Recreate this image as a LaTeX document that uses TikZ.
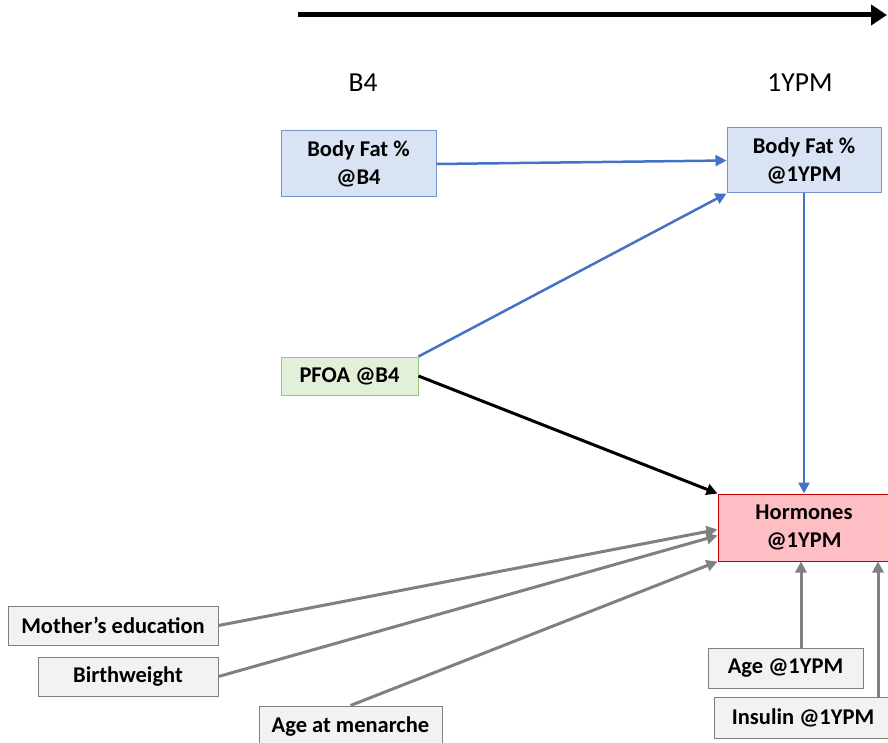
\documentclass[tikz,border=0pt]{standalone}
\usepackage{fontspec}
\setmainfont{Carlito}
\usetikzlibrary{arrows.meta}

\definecolor{fatfill}{RGB}{218,227,243}
\definecolor{fatline}{RGB}{114,147,203}
\definecolor{pfoafill}{RGB}{226,240,217}
\definecolor{pfoaline}{RGB}{150,200,120}
\definecolor{hormfill}{RGB}{255,190,196}
\definecolor{hormline}{RGB}{192,0,0}
\definecolor{covfill}{RGB}{242,242,242}
\definecolor{covline}{RGB}{127,127,127}
\definecolor{pathblue}{RGB}{68,114,196}
\definecolor{pathgray}{RGB}{128,128,128}

\tikzset{
  box/.style={draw, line width=1pt, align=center, inner sep=0pt,
    font=\bfseries\fontsize{22.5}{28}\selectfont},
  fatbox/.style={box, fill=fatfill, draw=fatline},
  pfoabox/.style={box, fill=pfoafill, draw=pfoaline},
  hormbox/.style={box, fill=hormfill, draw=hormline},
  covbox/.style={box, fill=covfill, draw=covline},
  bluearrow/.style={draw=pathblue, line width=2.5pt, -{Triangle[length=11pt,width=11pt]}},
  blackarrow/.style={draw=black, line width=3pt, -{Triangle[length=11pt,width=11pt]}},
  grayarrow/.style={draw=pathgray, line width=3pt, -{Triangle[length=11pt,width=11pt]}},
  timelabel/.style={font=\fontsize{27.5}{31}\selectfont}
}

\begin{document}
\begin{tikzpicture}[x=1pt, y=-1pt]
  \useasboundingbox (0,0) rectangle (888,743);

  % time line
  \coordinate (tstart) at (298,15);
  \coordinate (tend) at (887,15);
  \draw[line width=5pt, -{Triangle[length=16pt,width=20pt]}] (tstart) -- (tend);
  \node[timelabel] (lb4) at (363,83) {B4};
  \node[timelabel] (l1ypm) at (800,83) {1YPM};

  % nodes
  \node[fatbox, minimum width=155, minimum height=66] (fatb4) at (358.5,164) {Body Fat \%\\@B4};
  \node[fatbox, minimum width=154, minimum height=65] (fat1ypm) at (804,160.5) {Body Fat \%\\@1YPM};
  \node[pfoabox, minimum width=137, minimum height=38] (pfoa) at (349.5,376) {PFOA @B4};
  \node[hormbox, minimum width=172, minimum height=67] (horm) at (804,527.5) {Hormones\\@1YPM};
  \node[covbox, minimum width=210, minimum height=39] (moth) at (113,625.5) {Mother’s education};
  \node[covbox, minimum width=180, minimum height=39] (birth) at (128,676.5) {Birthweight};
  \node[covbox, minimum width=183, minimum height=42] (menar) at (350.5,727) {Age at menarche};
  \node[covbox, minimum width=155, minimum height=40] (age) at (785.5,668) {Age @1YPM};
  \node[covbox, minimum width=178, minimum height=41] (insul) at (803,717.5) {Insulin @1YPM};

  % paths
  \draw[bluearrow] (fatb4.east) -- (fat1ypm.west);
  \draw[bluearrow] (pfoa.north east) -- (fat1ypm.south west);
  \draw[bluearrow] (fat1ypm.south) -- (horm.north);
  \draw[blackarrow] (pfoa.east) -- (horm.north west);
  \draw[grayarrow] (moth.east) -- ([yshift=-2pt]horm.west);
  \draw[grayarrow] (birth.east) -- ([yshift=-8pt]horm.west);
  \draw[grayarrow] (menar.north) -- (horm.south west);
  \draw[grayarrow] ([xshift=15.5pt]age.north) -- ([xshift=15.5pt]age.north |- horm.south);
  \draw[grayarrow] ([xshift=75pt]insul.north) -- ([xshift=75pt]insul.north |- horm.south);
\end{tikzpicture}
\end{document}
